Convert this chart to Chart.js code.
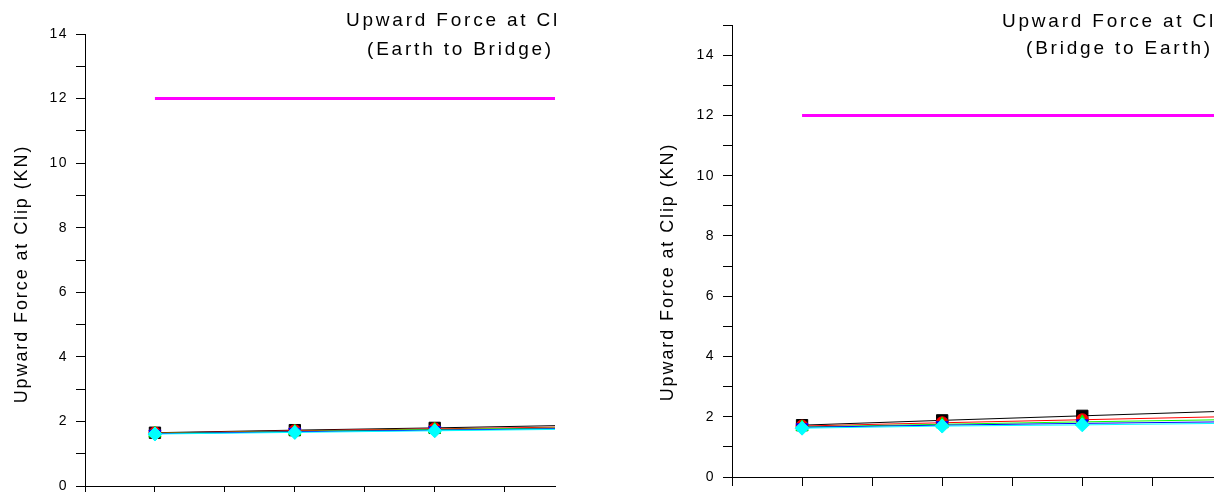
<!DOCTYPE html>
<html>
<head>
<meta charset="utf-8">
<script src="https://cdn.jsdelivr.net/npm/chart.js@4/dist/chart.umd.min.js"></script>
<style>
  html, body { margin: 0; padding: 0; background: #fff; }
  #wrap { position: relative; width: 1214px; height: 492px; overflow: hidden; }
  .pane { position: absolute; top: 0; height: 492px; }
</style>
</head>
<body>
<div id="wrap">
  <div class="pane" style="left:0;width:600px"><canvas id="leftChart" width="600" height="492"></canvas></div>
  <div class="pane" style="left:600px;width:614px"><canvas id="rightChart" width="614" height="492"></canvas></div>
</div>
<script>
// data
const xCats = [1, 2, 3, 4];
const xTickVals = [0.5, 1, 1.5, 2, 2.5, 3, 3.5];
const limitX = [1, 4];
const limitY = [12, 12];

const e2bBlack = [1.65, 1.73, 1.80, 1.88];
const e2bRed   = [1.64, 1.71, 1.77, 1.83];
const e2bGreen = [1.63, 1.69, 1.75, 1.80];
const e2bBlue  = [1.62, 1.68, 1.73, 1.78];
const e2bCyan  = [1.61, 1.66, 1.71, 1.76];

const b2eBlack = [1.72, 1.88, 2.03, 2.18];
const b2eRed   = [1.69, 1.80, 1.90, 2.00];
const b2eGreen = [1.66, 1.75, 1.83, 1.90];
const b2eBlue  = [1.65, 1.72, 1.78, 1.83];
const b2eCyan  = [1.62, 1.69, 1.73, 1.78];

const yTitle = 'Upward Force at Clip (KN)';
const titleTop = 'Upward Force at Cl';
const leftSub = '(Earth to Bridge)';
const rightSub = '(Bridge to Earth)';

const FONT = '"Liberation Sans", Arial, sans-serif';

// Origin-style wide lettering for tick labels too
const spacing = {
  id: 'spacing',
  beforeDraw(chart) { chart.ctx.letterSpacing = '1.5px'; }
};

const panelText = {
  id: 'panelText',
  afterDraw(chart, args, o) {
    const ctx = chart.ctx;
    ctx.save();
    ctx.fillStyle = '#000';
    ctx.font = '19px ' + FONT;
    ctx.letterSpacing = '2.8px';
    ctx.textBaseline = 'middle';
    o.lines.forEach(l => {
      ctx.textAlign = l.align;
      ctx.fillText(l.text, l.x, l.y);
    });
    ctx.font = '18px ' + FONT;
    ctx.letterSpacing = '1.9px';
    ctx.translate(o.yx, o.yy);
    ctx.rotate(-Math.PI / 2);
    ctx.textAlign = 'center';
    ctx.fillText(yTitle, 0, 0);
    ctx.restore();
  }
};

function pts(vals) { return xCats.map((x, i) => ({ x: x, y: vals[i] })); }

function series(label, vals, color, style, radius, order, rot) {
  return {
    label: label,
    data: pts(vals),
    borderColor: color,
    backgroundColor: color,
    pointBorderColor: color,
    pointBackgroundColor: color,
    borderWidth: 1,
    pointStyle: style,
    pointRadius: radius,
    pointRotation: rot || 0,
    pointBorderWidth: 1,
    tension: 0,
    order: order
  };
}

function limitSet() {
  return {
    label: 'limit',
    data: limitX.map((x, i) => ({ x: x, y: limitY[i] })),
    borderColor: '#ff00ff',
    borderWidth: 3,
    pointRadius: 0,
    tension: 0,
    order: 0
  };
}

function noPad(s) { s.paddingTop = 0; s.paddingBottom = 0; s.paddingLeft = 0; s.paddingRight = 0; }

function makeChart(id, vals, cfg) {
  return new Chart(document.getElementById(id), {
    type: 'line',
    data: {
      datasets: [
        limitSet(),
        series('A', vals[0], '#000000', 'rect', 8, 5),
        series('B', vals[1], '#ff0000', 'circle', 6, 4),
        series('C', vals[2], '#00ff00', 'triangle', 7, 3),
        series('D', vals[3], '#0000ff', 'triangle', 7, 2, 180),
        series('E', vals[4], '#00ffff', 'rectRot', 7, 1)
      ]
    },
    options: {
      responsive: false,
      animation: false,
      layout: { padding: cfg.padding, autoPadding: false },
      plugins: {
        legend: { display: false },
        tooltip: { enabled: false },
        panelText: cfg.text
      },
      scales: {
        x: {
          type: 'linear',
          min: 0.5,
          max: cfg.xMax,
          afterBuildTicks: s => { s.ticks = xTickVals.map(v => ({ value: v })); },
          afterFit: s => { s.height = cfg.xH; noPad(s); },
          grid: { drawOnChartArea: false, tickLength: 9, tickColor: '#000', tickWidth: 1 },
          border: { color: '#000', width: 1 },
          ticks: { display: false }
        },
        y: {
          min: 0,
          max: cfg.yMax,
          afterFit: s => { s.width = cfg.yW; noPad(s); },
          grid: { drawOnChartArea: false, tickLength: 9, tickColor: '#000', tickWidth: 1 },
          border: { color: '#000', width: 1 },
          ticks: {
            stepSize: 1,
            padding: 8,
            color: '#000',
            font: { family: FONT, size: 14 },
            callback: v => (v % 2 === 0 ? v : '')
          }
        }
      }
    },
    plugins: [spacing, panelText]
  });
}

makeChart('leftChart', [e2bBlack, e2bRed, e2bGreen, e2bBlue, e2bCyan], {
  padding: { left: 0, right: 45, top: 34, bottom: 0 },
  xMax: 3.86, yMax: 14, xH: 6, yW: 85,
  text: {
    lines: [
      { text: titleTop, x: 560, y: 21, align: 'right' },
      { text: leftSub, x: 554, y: 50, align: 'right' }
    ],
    yx: 22, yy: 274
  }
});

makeChart('rightChart', [b2eBlack, b2eRed, b2eGreen, b2eBlue, b2eCyan], {
  padding: { left: 0, right: 0, top: 25, bottom: 0 },
  xMax: 3.94, yMax: 15, xH: 15, yW: 132,
  text: {
    lines: [
      { text: titleTop, x: 616, y: 22, align: 'right' },
      { text: rightSub, x: 613, y: 49, align: 'right' }
    ],
    yx: 68, yy: 272
  }
});
</script>
</body>
</html>
